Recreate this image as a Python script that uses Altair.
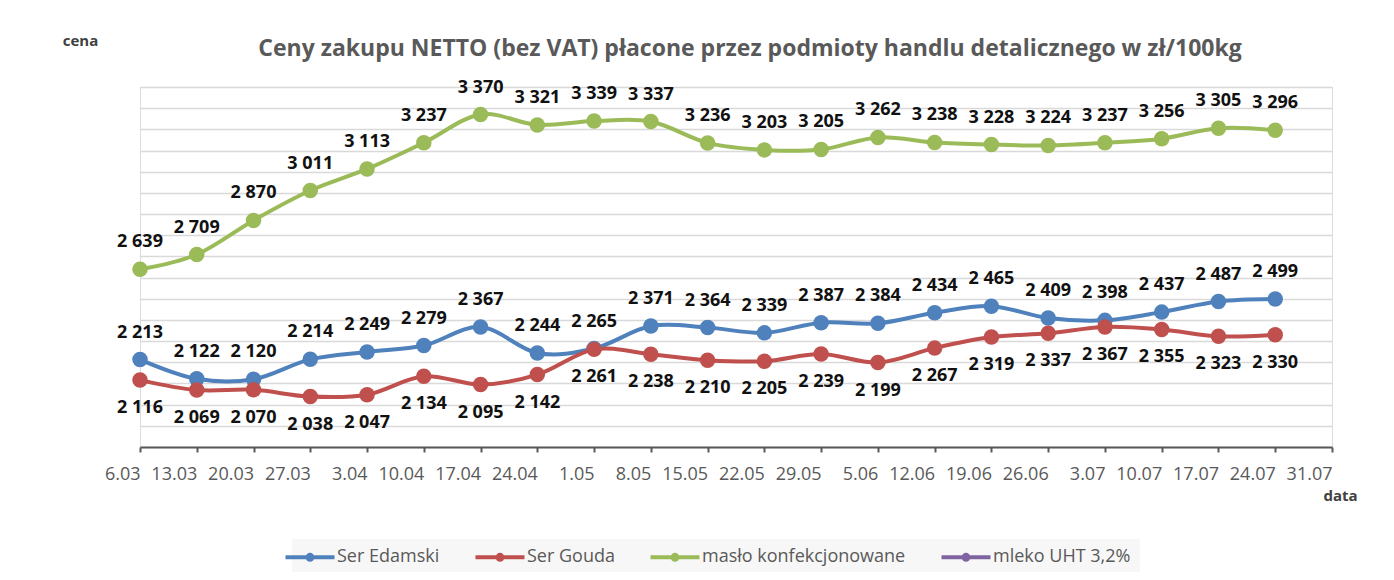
import altair as alt
import pandas as pd

dates = ["6.03", "13.03", "20.03", "27.03", "3.04", "10.04", "17.04", "24.04",
         "1.05", "8.05", "15.05", "22.05", "29.05", "5.06", "12.06", "19.06",
         "26.06", "3.07", "10.07", "17.07", "24.07", "31.07"]
series_names = ["Ser Edamski", "Ser Gouda", "masło konfekcjonowane", "mleko UHT 3,2%"]
series_colors = ["#4F81BD", "#C0504D", "#9BBB59", "#8064A2"]

edamski = [2213, 2122, 2120, 2214, 2249, 2279, 2367, 2244, 2265, 2371, 2364,
           2339, 2387, 2384, 2434, 2465, 2409, 2398, 2437, 2487, 2499]
gouda = [2116, 2069, 2070, 2038, 2047, 2134, 2095, 2142, 2261, 2238, 2210,
         2205, 2239, 2199, 2267, 2319, 2337, 2367, 2355, 2323, 2330]
maslo = [2639, 2709, 2870, 3011, 3113, 3237, 3370, 3321, 3339, 3337, 3236,
         3203, 3205, 3262, 3238, 3228, 3224, 3237, 3256, 3305, 3296]

rows = []
for name, vals, pos in [("Ser Edamski", edamski, "above"),
                        ("Ser Gouda", gouda, "below"),
                        ("masło konfekcjonowane", maslo, "above")]:
    for d, v in zip(dates, vals):
        rows.append({"data": d, "cena": v, "seria": name, "pos": pos,
                     "label": f"{v:,}".replace(",", " ")})
df = pd.DataFrame(rows)

FONT = "Open Sans"

x_enc = alt.X("data:N", sort=dates,
              scale=alt.Scale(type="point", domain=dates, padding=0),
              axis=alt.Axis(title="data", titleX=1200, titleY=48, titleAlign="center",
                            titleBaseline="middle", titleFont=FONT, titleFontSize=15,
                            titleFontWeight="bold", titleColor="#404040",
                            labelAlign="right", labelFont=FONT, labelFontSize=18,
                            labelColor="#595959", labelOverlap=False, labelPadding=13,
                            labelAngle=0, tickSize=5, tickWidth=2, tickColor="#595959",
                            domainColor="#595959", domainWidth=2, grid=False))
y_enc = alt.Y("cena:Q",
              scale=alt.Scale(domain=[1800, 3500], nice=False, zero=False),
              axis=alt.Axis(title="cena", titleAngle=0, titleX=-60, titleY=-47,
                            titleAlign="center", titleBaseline="middle", titleFont=FONT,
                            titleFontSize=15, titleFontWeight="bold", titleColor="#404040",
                            values=list(range(1800, 3501, 100)), labels=False, ticks=False,
                            domain=False, grid=True, gridColor="#d9d9d9", gridWidth=1.5))

# legend symbol: a line with a dot in the middle, drawn wider than its layout box
legend_path = "M-5,0L5,0M-0.5,0A0.5,0.5,0,1,0,0.5,0A0.5,0.5,0,1,0,-0.5,0Z"
color_scale = alt.Scale(domain=series_names, range=series_colors)
color_legend = alt.Color("seria:N", scale=color_scale,
                         legend=alt.Legend(title=None, orient="none", legendX=152, legendY=452,
                                           direction="horizontal", columns=4,
                                           symbolType=legend_path, symbolSize=96,
                                           symbolStrokeWidth=4, labelOffset=18,
                                           columnPadding=27, labelFont=FONT,
                                           labelFontSize=18, labelColor="#595959",
                                           labelLimit=0,
                                           fillColor="#f7f7f7", padding=9,
                                           symbolOpacity=1))
color_plain = alt.Color("seria:N", scale=color_scale, legend=None)

base = alt.Chart(df).encode(x=x_enc, y=y_enc)

lines = base.mark_line(strokeWidth=4, interpolate="cardinal").encode(color=color_legend)
points = base.mark_point(filled=True, opacity=1).encode(
    color=color_plain,
    size=alt.Size("seria:N", scale=alt.Scale(domain=series_names[:3], range=[240, 240, 130]),
                  legend=None))
labels_above = base.transform_filter(alt.datum.pos == "above").mark_text(
    font=FONT, fontSize=18, fontWeight="bold", color="#111111", dy=-27,
    baseline="middle").encode(text="label:N")
labels_below = base.transform_filter(alt.datum.pos == "below").mark_text(
    font=FONT, fontSize=18, fontWeight="bold", color="#111111", dy=28,
    baseline="middle").encode(text="label:N")

chart = alt.layer(lines, points, labels_above, labels_below).resolve_legend(
    color="independent", size="independent"
).properties(
    width=1192, height=360,
    autosize=alt.AutoSizeParams(type="none"),
    padding={"left": 132, "top": 79, "right": 54, "bottom": 125},
    title=alt.Title("Ceny zakupu NETTO (bez VAT) płacone przez podmioty handlu detalicznego w zł/100kg",
                    font=FONT, fontSize=23, fontWeight="bold", color="#595959",
                    anchor="middle", dx=14, offset=-28),
).configure_view(stroke=None).configure(background="white")

chart.save("out.html", embed_options={"renderer": "svg", "actions": False})
